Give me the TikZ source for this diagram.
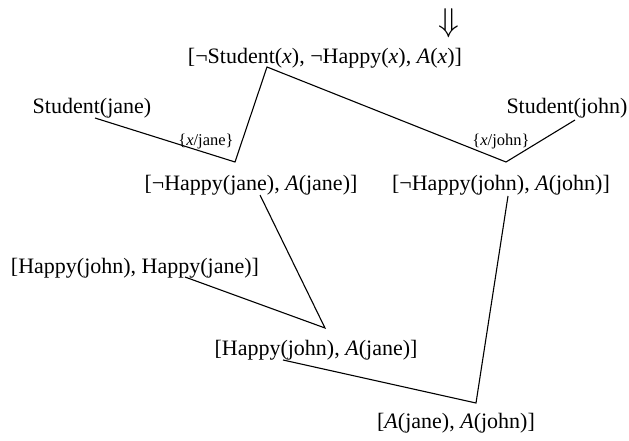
\documentclass[tikz,border=0pt]{standalone}
\usepackage{fontspec}
\usepackage{graphicx}
\setmainfont{Liberation Serif}
\begin{document}
\begin{tikzpicture}[x=1pt,y=-1pt,
  lit/.style={inner sep=0pt,font=\fontsize{22}{26}\selectfont},
  sub/.style={inner sep=0pt,font=\fontsize{16.5}{20}\selectfont},
  edge/.style={line width=1.1pt}]
\useasboundingbox (0,0) rectangle (629,441);
\node[inner sep=0pt] (arr) at (449,23.5) {\scalebox{3.4}[3.3]{$\Downarrow$}};
\node[lit] (top) at (325,58) {[¬Student(\textit{x}), ¬Happy(\textit{x}), \textit{A}(\textit{x})]};
\node[lit] (sj) at (92,108) {Student(jane)};
\node[lit] (sjo) at (567,108) {Student(john)};
\node[sub] (lj) at (206,142) {\{\textit{x}/jane\}};
\node[sub] (ljo) at (501,142) {\{\textit{x}/john\}};
\node[lit] (hj) at (251,185) {[¬Happy(jane), \textit{A}(jane)]};
\node[lit] (hjo) at (501,185) {[¬Happy(john), \textit{A}(john)]};
\node[lit] (hh) at (135,268) {[Happy(john), Happy(jane)]};
\node[lit] (ha) at (316,350) {[Happy(john), \textit{A}(jane)]};
\node[lit] (aa) at (456,423) {[\textit{A}(jane), \textit{A}(john)]};
% connector end points
\coordinate (sjE) at (95,118);
\coordinate (topE) at (267,67);
\coordinate (sjoE) at (575,120);
\coordinate (v1) at (235,162);
\coordinate (v2) at (506,162);
\coordinate (hjE) at (260,195);
\coordinate (hhE) at (185,277);
\coordinate (v3) at (325,328);
\coordinate (hjoE) at (508,196);
\coordinate (haE) at (283,360);
\coordinate (v4) at (476,403);
\draw[edge] (sjE) -- (v1) -- (topE) -- (v2) -- (sjoE);
\draw[edge] (hhE) -- (v3) -- (hjE);
\draw[edge] (haE) -- (v4) -- (hjoE);
\end{tikzpicture}
\end{document}
